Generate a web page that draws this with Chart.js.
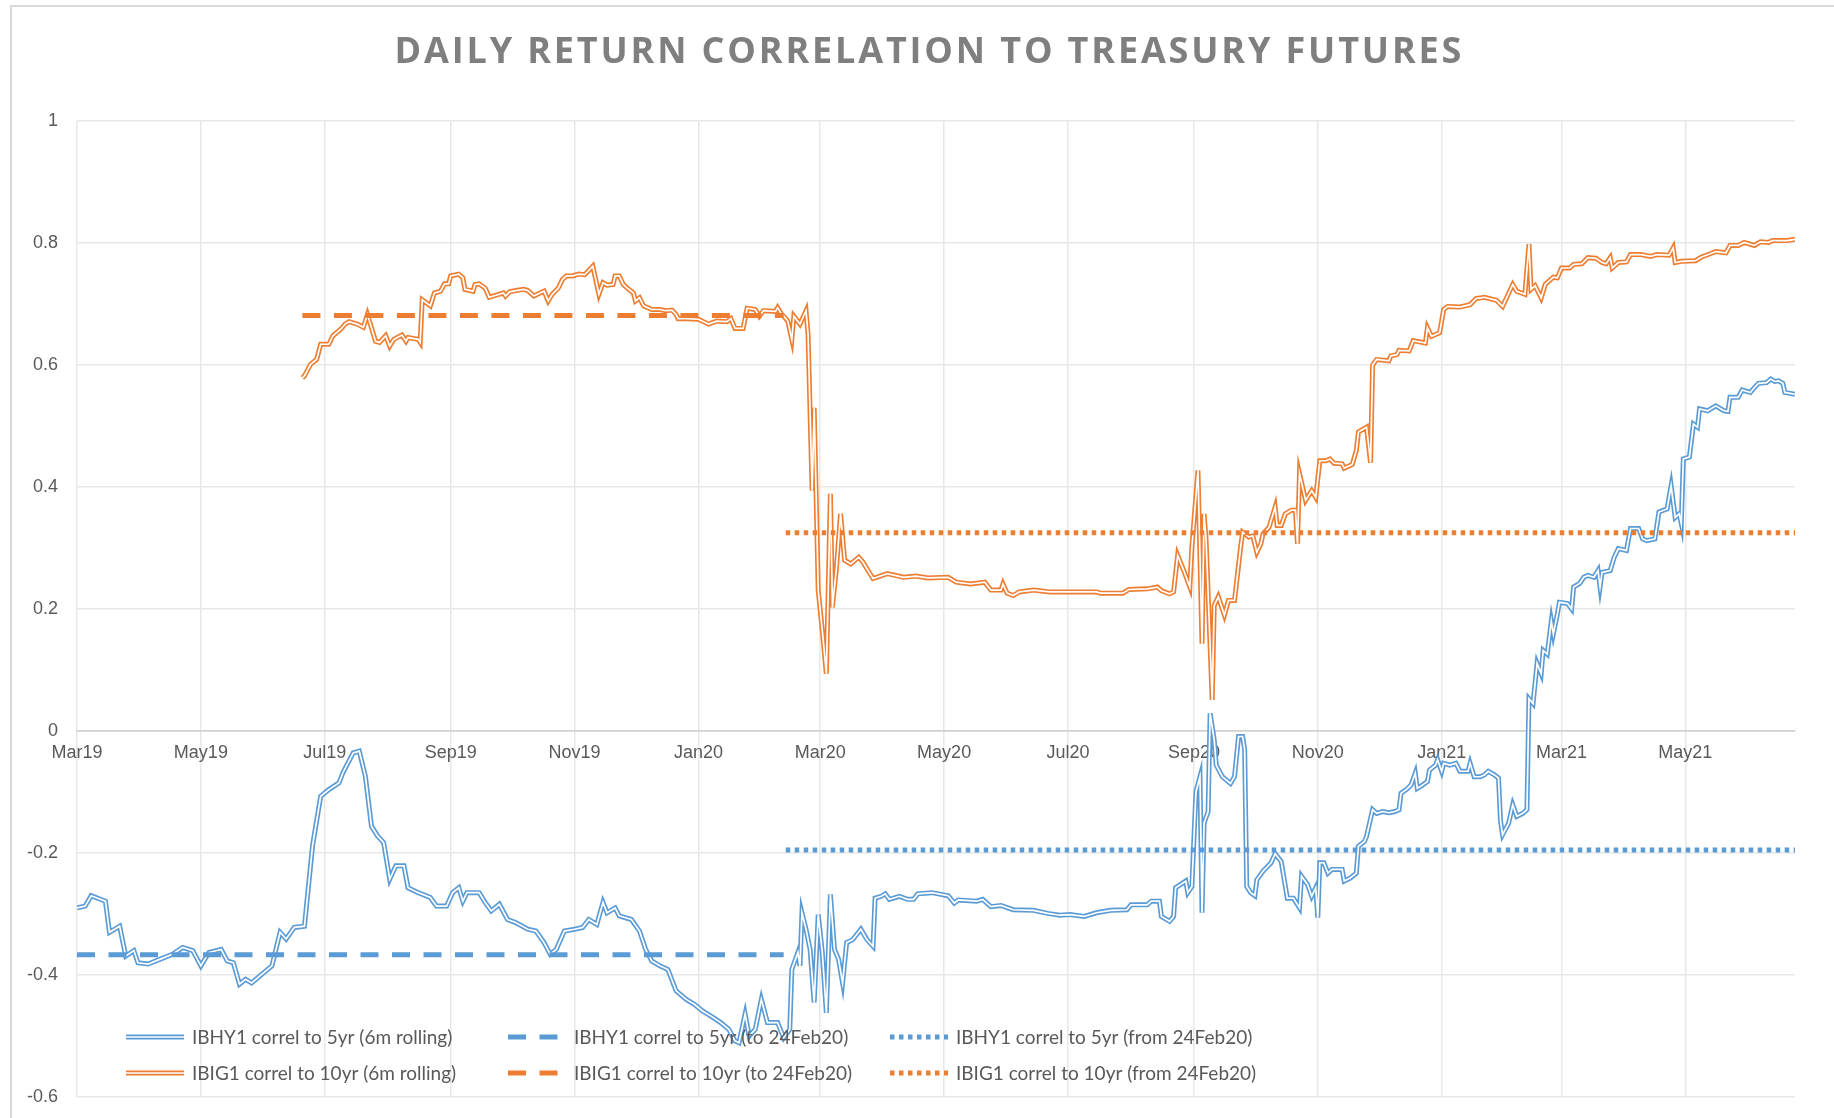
<!DOCTYPE html>
<html>
<head>
<meta charset="utf-8">
<title>Daily return correlation to treasury futures</title>
<script src="https://cdn.jsdelivr.net/npm/chart.js@4.4.1/dist/chart.umd.min.js"></script>
<style>
  html, body { margin: 0; background: #fff; }
  canvas { display: block; }
</style>
</head>
<body>
<canvas id="corrChart" width="1834" height="1118"></canvas>
<script>
const chartTitle = 'DAILY RETURN CORRELATION TO TREASURY FUTURES';

// x axis: one label every two months
const tickDates = ['2019-03-01', '2019-05-01', '2019-07-01', '2019-09-01', '2019-11-01', '2020-01-01', '2020-03-01',
  '2020-05-01', '2020-07-01', '2020-09-01', '2020-11-01', '2021-01-01', '2021-03-01', '2021-05-01'];
const tickLabels = ['Mar19', 'May19', 'Jul19', 'Sep19', 'Nov19', 'Jan20', 'Mar20',
  'May20', 'Jul20', 'Sep20', 'Nov20', 'Jan21', 'Mar21', 'May21'];
const axisStart = '2019-03-01';
const axisEnd = '2021-06-24';

// IBHY1 correl to 5yr, 6m rolling
const hyDates = ['2019-03-01', '2019-03-05', '2019-03-08', '2019-03-15', '2019-03-17', '2019-03-22', '2019-03-25', '2019-03-29',
  '2019-03-31', '2019-04-05', '2019-04-11', '2019-04-17', '2019-04-22', '2019-04-27', '2019-05-01', '2019-05-05',
  '2019-05-11', '2019-05-14', '2019-05-17', '2019-05-20', '2019-05-23', '2019-05-26', '2019-06-01', '2019-06-05',
  '2019-06-09', '2019-06-12', '2019-06-16', '2019-06-21', '2019-06-25', '2019-06-29', '2019-07-03', '2019-07-08',
  '2019-07-10', '2019-07-15', '2019-07-18', '2019-07-21', '2019-07-24', '2019-07-27', '2019-07-30', '2019-08-02',
  '2019-08-05', '2019-08-09', '2019-08-11', '2019-08-16', '2019-08-22', '2019-08-25', '2019-08-30', '2019-09-02',
  '2019-09-05', '2019-09-07', '2019-09-09', '2019-09-15', '2019-09-18', '2019-09-21', '2019-09-25', '2019-09-29',
  '2019-10-03', '2019-10-09', '2019-10-13', '2019-10-17', '2019-10-20', '2019-10-23', '2019-10-27', '2019-11-01',
  '2019-11-05', '2019-11-08', '2019-11-12', '2019-11-15', '2019-11-17', '2019-11-21', '2019-11-23', '2019-11-29',
  '2019-12-03', '2019-12-06', '2019-12-09', '2019-12-13', '2019-12-17', '2019-12-21', '2019-12-26', '2019-12-30',
  '2020-01-03', '2020-01-07', '2020-01-12', '2020-01-16', '2020-01-19', '2020-01-21', '2020-01-24', '2020-01-26',
  '2020-01-29', '2020-02-01', '2020-02-04', '2020-02-09', '2020-02-12', '2020-02-15', '2020-02-16', '2020-02-19',
  '2020-02-20', '2020-02-21', '2020-02-23', '2020-02-25', '2020-02-27', '2020-02-29', '2020-03-02', '2020-03-04',
  '2020-03-06', '2020-03-08', '2020-03-10', '2020-03-12', '2020-03-14', '2020-03-17', '2020-03-21', '2020-03-24',
  '2020-03-27', '2020-03-28', '2020-03-31', '2020-04-02', '2020-04-04', '2020-04-09', '2020-04-13', '2020-04-16',
  '2020-04-18', '2020-04-25', '2020-05-03', '2020-05-06', '2020-05-08', '2020-05-17', '2020-05-20', '2020-05-24',
  '2020-05-29', '2020-06-04', '2020-06-14', '2020-06-21', '2020-06-27', '2020-07-02', '2020-07-09', '2020-07-15',
  '2020-07-22', '2020-07-30', '2020-08-01', '2020-08-09', '2020-08-11', '2020-08-15', '2020-08-16', '2020-08-20',
  '2020-08-22', '2020-08-23', '2020-08-28', '2020-08-29', '2020-08-31', '2020-09-02', '2020-09-04', '2020-09-05',
  '2020-09-06', '2020-09-08', '2020-09-09', '2020-09-11', '2020-09-12', '2020-09-15', '2020-09-19', '2020-09-21',
  '2020-09-23', '2020-09-25', '2020-09-26', '2020-09-27', '2020-09-29', '2020-10-01', '2020-10-02', '2020-10-05',
  '2020-10-09', '2020-10-11', '2020-10-14', '2020-10-17', '2020-10-20', '2020-10-23', '2020-10-24', '2020-10-27',
  '2020-10-29', '2020-10-31', '2020-11-01', '2020-11-02', '2020-11-04', '2020-11-06', '2020-11-08', '2020-11-13',
  '2020-11-14', '2020-11-17', '2020-11-20', '2020-11-21', '2020-11-24', '2020-11-25', '2020-11-28', '2020-11-30',
  '2020-12-03', '2020-12-06', '2020-12-09', '2020-12-11', '2020-12-12', '2020-12-15', '2020-12-17', '2020-12-19',
  '2020-12-20', '2020-12-22', '2020-12-25', '2020-12-26', '2020-12-29', '2020-12-30', '2021-01-01', '2021-01-02',
  '2021-01-05', '2021-01-08', '2021-01-10', '2021-01-14', '2021-01-15', '2021-01-17', '2021-01-20', '2021-01-22',
  '2021-01-24', '2021-01-27', '2021-01-29', '2021-01-30', '2021-01-31', '2021-02-03', '2021-02-05', '2021-02-07',
  '2021-02-10', '2021-02-12', '2021-02-13', '2021-02-15', '2021-02-17', '2021-02-19', '2021-02-20', '2021-02-22',
  '2021-02-24', '2021-02-25', '2021-02-27', '2021-02-28', '2021-03-04', '2021-03-06', '2021-03-07', '2021-03-10',
  '2021-03-12', '2021-03-14', '2021-03-17', '2021-03-19', '2021-03-20', '2021-03-21', '2021-03-25', '2021-03-27',
  '2021-03-29', '2021-04-02', '2021-04-04', '2021-04-08', '2021-04-10', '2021-04-12', '2021-04-16', '2021-04-18',
  '2021-04-22', '2021-04-24', '2021-04-26', '2021-04-28', '2021-04-29', '2021-04-30', '2021-05-03', '2021-05-05',
  '2021-05-07', '2021-05-08', '2021-05-12', '2021-05-16', '2021-05-20', '2021-05-22', '2021-05-23', '2021-05-27',
  '2021-05-29', '2021-06-02', '2021-06-04', '2021-06-06', '2021-06-10', '2021-06-12', '2021-06-14', '2021-06-16',
  '2021-06-18', '2021-06-19', '2021-06-24'];
const hyValues = [-0.29, -0.287, -0.27, -0.279, -0.33, -0.32, -0.369, -0.36,
  -0.38, -0.382, -0.374, -0.366, -0.355, -0.36, -0.385, -0.363,
  -0.358, -0.377, -0.38, -0.415, -0.407, -0.413, -0.396, -0.385,
  -0.33, -0.341, -0.322, -0.32, -0.188, -0.107, -0.096, -0.085,
  -0.068, -0.036, -0.033, -0.074, -0.156, -0.172, -0.183, -0.243,
  -0.221, -0.221, -0.257, -0.265, -0.273, -0.287, -0.287, -0.265,
  -0.257, -0.279, -0.265, -0.265, -0.281, -0.295, -0.284, -0.309,
  -0.314, -0.325, -0.328, -0.347, -0.366, -0.358, -0.328, -0.325,
  -0.322, -0.309, -0.317, -0.281, -0.298, -0.29, -0.303, -0.309,
  -0.328, -0.358, -0.377, -0.385, -0.391, -0.426, -0.44, -0.448,
  -0.459, -0.467, -0.478, -0.489, -0.508, -0.511, -0.464, -0.5,
  -0.489, -0.44, -0.478, -0.478, -0.503, -0.489, -0.391, -0.363,
  -0.385, -0.298, -0.325, -0.358, -0.445, -0.301, -0.363, -0.462,
  -0.268, -0.358, -0.374, -0.413, -0.347, -0.342, -0.325, -0.342,
  -0.353, -0.274, -0.271, -0.267, -0.276, -0.271, -0.276, -0.276,
  -0.267, -0.265, -0.27, -0.282, -0.277, -0.279, -0.276, -0.288,
  -0.286, -0.293, -0.294, -0.299, -0.302, -0.301, -0.304, -0.298,
  -0.294, -0.293, -0.285, -0.285, -0.279, -0.279, -0.304, -0.312,
  -0.304, -0.257, -0.246, -0.265, -0.255, -0.1, -0.075, -0.298,
  -0.151, -0.132, 0.029, -0.015, -0.056, -0.075, -0.086, -0.075,
  -0.009, -0.009, -0.031, -0.255, -0.265, -0.27, -0.244, -0.23,
  -0.216, -0.201, -0.214, -0.274, -0.274, -0.29, -0.238, -0.252,
  -0.271, -0.257, -0.306, -0.216, -0.216, -0.233, -0.227, -0.227,
  -0.246, -0.241, -0.233, -0.189, -0.181, -0.173, -0.129, -0.135,
  -0.132, -0.134, -0.132, -0.129, -0.102, -0.095, -0.088, -0.069,
  -0.094, -0.09, -0.083, -0.064, -0.056, -0.047, -0.066, -0.053,
  -0.056, -0.053, -0.066, -0.066, -0.053, -0.075, -0.075, -0.072,
  -0.066, -0.072, -0.077, -0.148, -0.17, -0.151, -0.121, -0.14,
  -0.135, -0.129, 0.053, 0.045, 0.111, 0.094, 0.132, 0.126,
  0.18, 0.159, 0.192, 0.211, 0.209, 0.2, 0.236, 0.242,
  0.252, 0.255, 0.252, 0.263, 0.236, 0.26, 0.263, 0.285,
  0.299, 0.296, 0.332, 0.332, 0.315, 0.312, 0.315, 0.359,
  0.364, 0.402, 0.35, 0.356, 0.34, 0.446, 0.449, 0.503,
  0.498, 0.528, 0.525, 0.533, 0.525, 0.524, 0.547, 0.547,
  0.559, 0.555, 0.563, 0.57, 0.571, 0.577, 0.573, 0.574,
  0.57, 0.555, 0.552];

// IBIG1 correl to 10yr, 6m rolling
const igDates = ['2019-06-20', '2019-06-21', '2019-06-24', '2019-06-27', '2019-06-29', '2019-07-03', '2019-07-05', '2019-07-09',
  '2019-07-11', '2019-07-13', '2019-07-17', '2019-07-20', '2019-07-22', '2019-07-24', '2019-07-26', '2019-07-28',
  '2019-07-31', '2019-08-02', '2019-08-04', '2019-08-08', '2019-08-10', '2019-08-11', '2019-08-16', '2019-08-17',
  '2019-08-18', '2019-08-22', '2019-08-24', '2019-08-27', '2019-08-29', '2019-08-31', '2019-09-01', '2019-09-05',
  '2019-09-07', '2019-09-08', '2019-09-12', '2019-09-13', '2019-09-15', '2019-09-18', '2019-09-20', '2019-09-23',
  '2019-09-27', '2019-09-28', '2019-09-30', '2019-10-03', '2019-10-07', '2019-10-09', '2019-10-12', '2019-10-15',
  '2019-10-17', '2019-10-19', '2019-10-21', '2019-10-24', '2019-10-26', '2019-10-28', '2019-10-31', '2019-11-03',
  '2019-11-06', '2019-11-10', '2019-11-13', '2019-11-15', '2019-11-17', '2019-11-20', '2019-11-21', '2019-11-23',
  '2019-11-25', '2019-11-27', '2019-11-30', '2019-12-01', '2019-12-03', '2019-12-05', '2019-12-09', '2019-12-13',
  '2019-12-16', '2019-12-19', '2019-12-21', '2019-12-22', '2019-12-26', '2020-01-01', '2020-01-06', '2020-01-10',
  '2020-01-15', '2020-01-17', '2020-01-19', '2020-01-23', '2020-01-25', '2020-01-29', '2020-01-31', '2020-02-02',
  '2020-02-08', '2020-02-09', '2020-02-11', '2020-02-12', '2020-02-14', '2020-02-16', '2020-02-17', '2020-02-20',
  '2020-02-23', '2020-02-24', '2020-02-26', '2020-02-27', '2020-02-28', '2020-02-29', '2020-03-02', '2020-03-04',
  '2020-03-06', '2020-03-07', '2020-03-09', '2020-03-11', '2020-03-13', '2020-03-16', '2020-03-20', '2020-03-22',
  '2020-03-24', '2020-03-27', '2020-04-03', '2020-04-11', '2020-04-17', '2020-04-23', '2020-05-03', '2020-05-07',
  '2020-05-14', '2020-05-21', '2020-05-24', '2020-05-29', '2020-05-30', '2020-06-01', '2020-06-04', '2020-06-07',
  '2020-06-14', '2020-06-22', '2020-07-01', '2020-07-09', '2020-07-15', '2020-07-17', '2020-07-28', '2020-07-31',
  '2020-08-09', '2020-08-14', '2020-08-16', '2020-08-20', '2020-08-22', '2020-08-24', '2020-08-27', '2020-08-30',
  '2020-08-31', '2020-09-03', '2020-09-05', '2020-09-06', '2020-09-07', '2020-09-10', '2020-09-11', '2020-09-13',
  '2020-09-16', '2020-09-18', '2020-09-21', '2020-09-24', '2020-09-25', '2020-09-28', '2020-09-30', '2020-10-02',
  '2020-10-04', '2020-10-05', '2020-10-08', '2020-10-11', '2020-10-12', '2020-10-14', '2020-10-16', '2020-10-19',
  '2020-10-21', '2020-10-22', '2020-10-23', '2020-10-26', '2020-10-29', '2020-10-31', '2020-11-02', '2020-11-05',
  '2020-11-07', '2020-11-09', '2020-11-13', '2020-11-14', '2020-11-18', '2020-11-20', '2020-11-21', '2020-11-25',
  '2020-11-27', '2020-11-28', '2020-11-30', '2020-12-06', '2020-12-07', '2020-12-10', '2020-12-11', '2020-12-16',
  '2020-12-18', '2020-12-24', '2020-12-25', '2020-12-27', '2020-12-31', '2021-01-02', '2021-01-04', '2021-01-10',
  '2021-01-15', '2021-01-18', '2021-01-22', '2021-01-28', '2021-01-31', '2021-02-05', '2021-02-07', '2021-02-11',
  '2021-02-13', '2021-02-14', '2021-02-16', '2021-02-19', '2021-02-21', '2021-02-25', '2021-02-27', '2021-03-01',
  '2021-03-05', '2021-03-07', '2021-03-11', '2021-03-14', '2021-03-18', '2021-03-21', '2021-03-23', '2021-03-25',
  '2021-03-26', '2021-03-29', '2021-04-02', '2021-04-04', '2021-04-09', '2021-04-14', '2021-04-17', '2021-04-23',
  '2021-04-25', '2021-04-26', '2021-04-29', '2021-05-06', '2021-05-09', '2021-05-13', '2021-05-16', '2021-05-21',
  '2021-05-23', '2021-05-27', '2021-05-30', '2021-06-04', '2021-06-07', '2021-06-11', '2021-06-13', '2021-06-15',
  '2021-06-20', '2021-06-24'];
const igValues = [0.579, 0.582, 0.601, 0.609, 0.634, 0.634, 0.648, 0.659,
  0.667, 0.671, 0.667, 0.662, 0.683, 0.661, 0.639, 0.637,
  0.648, 0.631, 0.642, 0.649, 0.639, 0.645, 0.642, 0.637,
  0.707, 0.697, 0.718, 0.721, 0.733, 0.733, 0.746, 0.749,
  0.743, 0.724, 0.721, 0.732, 0.733, 0.726, 0.711, 0.714,
  0.718, 0.713, 0.72, 0.722, 0.724, 0.722, 0.713, 0.718,
  0.721, 0.705, 0.716, 0.726, 0.74, 0.746, 0.746, 0.749,
  0.748, 0.762, 0.716, 0.735, 0.731, 0.732, 0.746, 0.746,
  0.732, 0.726, 0.718, 0.705, 0.71, 0.697, 0.691, 0.691,
  0.689, 0.69, 0.683, 0.676, 0.676, 0.675, 0.667, 0.672,
  0.671, 0.676, 0.66, 0.66, 0.693, 0.691, 0.68, 0.689,
  0.688, 0.694, 0.683, 0.68, 0.672, 0.642, 0.68, 0.667,
  0.689, 0.65, 0.394, 0.53, 0.383, 0.231, 0.165, 0.094,
  0.389, 0.203, 0.268, 0.356, 0.28, 0.274, 0.285, 0.277,
  0.266, 0.25, 0.258, 0.252, 0.254, 0.251, 0.252, 0.244,
  0.241, 0.244, 0.231, 0.231, 0.241, 0.226, 0.222, 0.228,
  0.231, 0.228, 0.228, 0.228, 0.228, 0.226, 0.226, 0.232,
  0.233, 0.236, 0.23, 0.225, 0.228, 0.288, 0.263, 0.236,
  0.301, 0.427, 0.143, 0.356, 0.313, 0.051, 0.206, 0.22,
  0.19, 0.214, 0.214, 0.301, 0.326, 0.318, 0.32, 0.293,
  0.307, 0.323, 0.334, 0.367, 0.337, 0.337, 0.356, 0.362,
  0.362, 0.307, 0.422, 0.378, 0.394, 0.383, 0.443, 0.443,
  0.446, 0.439, 0.438, 0.431, 0.437, 0.46, 0.49, 0.498,
  0.44, 0.6, 0.609, 0.607, 0.615, 0.617, 0.624, 0.623,
  0.64, 0.636, 0.661, 0.647, 0.653, 0.691, 0.696, 0.695,
  0.699, 0.709, 0.711, 0.706, 0.696, 0.732, 0.721, 0.716,
  0.798, 0.724, 0.73, 0.71, 0.732, 0.744, 0.743, 0.759,
  0.759, 0.765, 0.766, 0.776, 0.775, 0.768, 0.766, 0.776,
  0.759, 0.768, 0.769, 0.781, 0.781, 0.778, 0.781, 0.78,
  0.792, 0.768, 0.77, 0.771, 0.777, 0.782, 0.786, 0.784,
  0.796, 0.796, 0.801, 0.796, 0.802, 0.801, 0.804, 0.804,
  0.804, 0.806];

// full-period correlations, before and after 24Feb20
const hyPreLevel = -0.367;
const hyPostLevel = -0.195;
const igPreLevel = 0.681;
const igPostLevel = 0.325;
const hyPreRange = ['2019-03-01', '2020-02-12'];
const igPreRange = ['2019-06-20', '2020-02-12'];
const postRange = ['2020-02-13', '2021-06-24'];

const BLUE = '#5B9BD5';
const ORANGE = '#ED7D31';
const TEXT = '#595959';

const toTime = s => Date.parse(s + 'T00:00:00Z');
const series = (dates, values) => dates.map((d, i) => ({ x: toTime(d), y: values[i] }));
const flat = (range, level) => range.map(d => ({ x: toTime(d), y: level }));

const lineStyle = { pointRadius: 0, pointHoverRadius: 0, borderWidth: 5, fill: false, tension: 0 };

// Excel-style "double" line: a thin white core drawn over the coloured stroke
const doubleLinePlugin = {
  id: 'doubleLine',
  afterDatasetDraw(chart, args) {
    const ds = chart.data.datasets[args.index];
    if (!ds.doubleLine) return;
    const pts = args.meta.data;
    const ctx = chart.ctx;
    const area = chart.chartArea;
    ctx.save();
    ctx.beginPath();
    ctx.rect(area.left, area.top - 5, area.right - area.left + 5, area.bottom - area.top + 10);
    ctx.clip();
    ctx.beginPath();
    pts.forEach((p, i) => (i ? ctx.lineTo(p.x, p.y) : ctx.moveTo(p.x, p.y)));
    ctx.strokeStyle = '#fff';
    ctx.lineWidth = 1.7;
    ctx.lineJoin = 'miter';
    ctx.stroke();
    ctx.restore();
  }
};

// frame + spaced title
const framePlugin = {
  id: 'frame',
  beforeDraw(chart) {
    const ctx = chart.ctx;
    ctx.save();
    ctx.fillStyle = '#fff';
    ctx.fillRect(0, 0, chart.width, chart.height);
    ctx.strokeStyle = '#d9d9d9';
    ctx.lineWidth = 2;
    ctx.strokeRect(11, 6, chart.width + 20, chart.height + 20);
    ctx.restore();
  },
  afterDraw(chart) {
    const ctx = chart.ctx;
    const targetWidth = 1067;
    ctx.save();
    ctx.font = 'bold 36px "Open Sans"';
    const w0 = ctx.measureText(chartTitle).width;
    const spacing = (targetWidth - w0) / (chartTitle.length - 1);
    ctx.letterSpacing = spacing.toFixed(2) + 'px';
    ctx.fillStyle = '#7F7F7F';
    ctx.textBaseline = 'alphabetic';
    ctx.textAlign = 'left';
    ctx.fillText(chartTitle, 928 - targetWidth / 2, 63);
    ctx.restore();
  }
};

// legend inside the plot, three columns by two rows
const legendPlugin = {
  id: 'gridLegend',
  afterDraw(chart) {
    const ctx = chart.ctx;
    const colX = [126, 508, 890];
    const rowY = [1037, 1073];
    ctx.save();
    ctx.font = '19px Lato';
    ctx.textBaseline = 'middle';
    chart.data.datasets.forEach(ds => {
      const x = colX[ds.legendCol];
      const y = rowY[ds.legendRow];
      ctx.beginPath();
      ctx.moveTo(x, y);
      ctx.lineTo(x + 58, y);
      ctx.strokeStyle = ds.borderColor;
      ctx.lineWidth = 5;
      ctx.setLineDash(ds.borderDash || []);
      ctx.stroke();
      if (ds.doubleLine) {
        ctx.strokeStyle = '#fff';
        ctx.lineWidth = 1.7;
        ctx.stroke();
      }
      ctx.setLineDash([]);
      ctx.fillStyle = TEXT;
      ctx.fillText(ds.label, x + 66, y + 1);
    });
    ctx.restore();
  }
};

new Chart(document.getElementById('corrChart'), {
  type: 'line',
  data: {
    datasets: [
      { ...lineStyle, label: 'IBHY1 correl to 5yr (6m rolling)', data: series(hyDates, hyValues),
        borderColor: BLUE, doubleLine: true, order: 5, legendRow: 0, legendCol: 0 },
      { ...lineStyle, label: 'IBHY1 correl to 5yr (to 24Feb20)', data: flat(hyPreRange, hyPreLevel),
        borderColor: BLUE, borderDash: [18, 13.5], order: 4, legendRow: 0, legendCol: 1 },
      { ...lineStyle, label: 'IBHY1 correl to 5yr (from 24Feb20)', data: flat(postRange, hyPostLevel),
        borderColor: BLUE, borderDash: [4.5, 4.5], order: 3, legendRow: 0, legendCol: 2 },
      { ...lineStyle, label: 'IBIG1 correl to 10yr (6m rolling)', data: series(igDates, igValues),
        borderColor: ORANGE, doubleLine: true, order: 2, legendRow: 1, legendCol: 0 },
      { ...lineStyle, label: 'IBIG1 correl to 10yr (to 24Feb20)', data: flat(igPreRange, igPreLevel),
        borderColor: ORANGE, borderDash: [18, 13.5], order: 1, legendRow: 1, legendCol: 1 },
      { ...lineStyle, label: 'IBIG1 correl to 10yr (from 24Feb20)', data: flat(postRange, igPostLevel),
        borderColor: ORANGE, borderDash: [4.5, 4.5], order: 0, legendRow: 1, legendCol: 2 }
    ]
  },
  options: {
    responsive: false,
    animation: false,
    events: [],
    layout: { padding: { top: 121, right: 39, bottom: 21, left: 0 } },
    plugins: {
      legend: { display: false },
      title: { display: false },
      tooltip: { enabled: false }
    },
    scales: {
      x: {
        type: 'linear',
        position: { y: 0 },
        min: toTime(axisStart),
        max: toTime(axisEnd),
        afterBuildTicks: scale => { scale.ticks = tickDates.map(d => ({ value: toTime(d) })); },
        afterFit: scale => { scale.height = 0; },
        ticks: {
          autoSkip: false,
          maxRotation: 0,
          padding: 11,
          color: TEXT,
          font: { family: '"Liberation Sans", Arial, sans-serif', size: 18 },
          callback: (value, index) => tickLabels[index]
        },
        grid: { color: '#e8e8e8', lineWidth: 1.5, drawTicks: false },
        border: { display: true, color: '#d0d0d0', width: 1.5 }
      },
      y: {
        min: -0.6,
        max: 1,
        afterFit: scale => { scale.width = 77; },
        ticks: {
          stepSize: 0.2,
          padding: 4,
          color: TEXT,
          font: { family: '"Liberation Sans", Arial, sans-serif', size: 18 },
          callback: value => String(Math.round(value * 10) / 10)
        },
        grid: {
          drawTicks: true,
          tickLength: 15,
          tickColor: 'rgba(0,0,0,0)',
          lineWidth: 1.5,
          color: c => (Math.abs(c.tick.value) < 1e-9 ? '#d0d0d0' : '#e8e8e8')
        },
        border: { display: false }
      }
    }
  },
  plugins: [framePlugin, doubleLinePlugin, legendPlugin]
});
</script>
</body>
</html>
